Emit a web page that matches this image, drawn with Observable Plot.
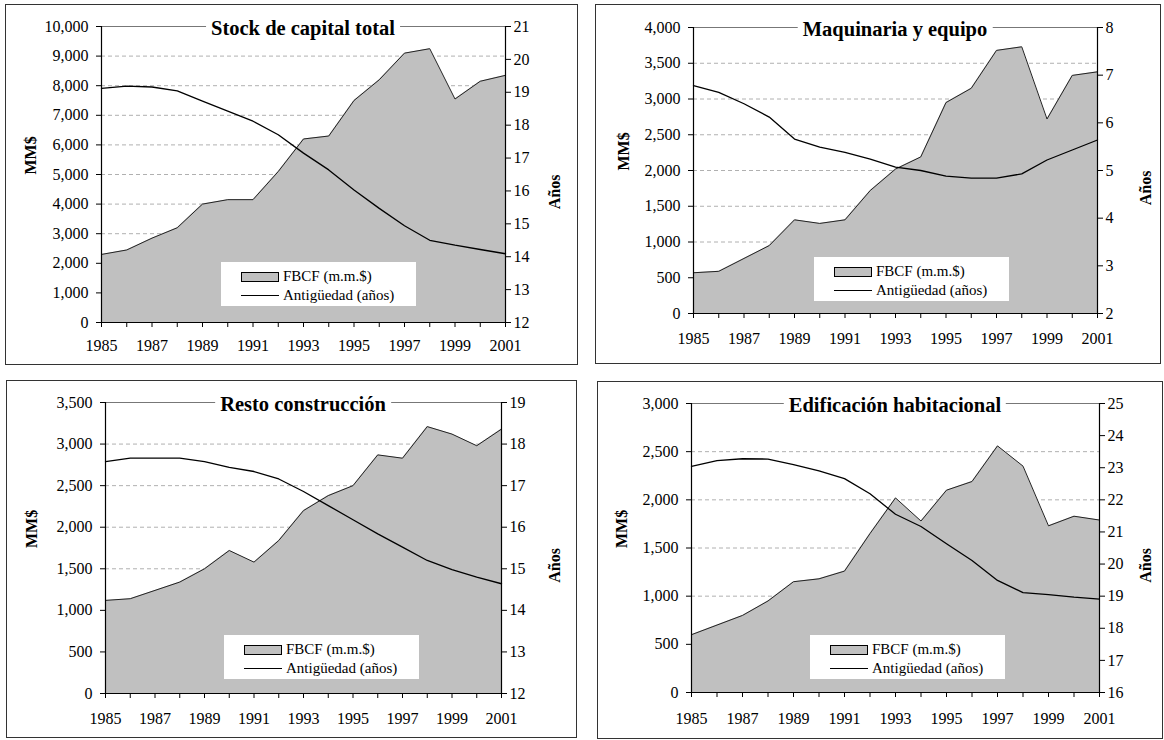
<!DOCTYPE html>
<html>
<head>
<meta charset="utf-8">
<script src="https://cdn.jsdelivr.net/npm/d3@7"></script>
<script src="https://cdn.jsdelivr.net/npm/@observablehq/plot@0.6"></script>
<style>
  html, body { margin: 0; padding: 0; background: #fff; }
  #root { position: relative; width: 1164px; height: 740px; background: #fff; overflow: hidden; font-family: "Liberation Serif", "DejaVu Serif", serif; }
  .frame { position: absolute; box-sizing: border-box; border: 1.5px solid #333; background: #fff; }
  .chart { position: absolute; }
  .title { position: absolute; transform: translate(-50%, -50%); background: #fff; padding: 0 5px; font-weight: bold; font-size: 20.5px; white-space: nowrap; color: #000; line-height: 22px; }
  .legend { position: absolute; background: #fff; font-size: 15px; color: #000; box-sizing: border-box; padding: 5px 0 0 20px; }
  .legend .row { height: 19px; display: flex; align-items: center; white-space: nowrap; }
  .legend .sw { display: inline-block; width: 38px; height: 10px; background: #c0c0c0; border: 1px solid #000; box-sizing: border-box; margin-right: 4px; }
  .legend .ln { display: inline-block; width: 38px; height: 0; border-top: 1px solid #000; margin-right: 4px; }
</style>
</head>
<body>
<div id="root"></div>
<script>
// ---- data ----
const years = [1985, 1986, 1987, 1988, 1989, 1990, 1991, 1992, 1993, 1994, 1995, 1996, 1997, 1998, 1999, 2000, 2001];

const stockFBCF = [2300, 2450, 2850, 3200, 4000, 4150, 4150, 5100, 6200, 6300, 7500, 8200, 9100, 9250, 7550, 8150, 8350];
const stockEdad = [19.12, 19.19, 19.16, 19.04, 18.73, 18.43, 18.12, 17.71, 17.15, 16.64, 16.03, 15.47, 14.94, 14.5, 14.35, 14.22, 14.09];

const maqFBCF = [570, 590, 770, 950, 1310, 1260, 1310, 1720, 2020, 2190, 2950, 3150, 3680, 3730, 2720, 3330, 3380];
const maqEdad = [6.78, 6.64, 6.40, 6.12, 5.66, 5.49, 5.38, 5.24, 5.07, 5.0, 4.88, 4.84, 4.84, 4.93, 5.22, 5.43, 5.64];

const restoFBCF = [1120, 1140, 1240, 1340, 1500, 1720, 1580, 1840, 2200, 2380, 2500, 2870, 2830, 3210, 3120, 2980, 3180];
const restoEdad = [17.58, 17.66, 17.66, 17.66, 17.58, 17.44, 17.34, 17.16, 16.86, 16.52, 16.18, 15.84, 15.52, 15.2, 14.98, 14.8, 14.64];

const edifFBCF = [600, 700, 800, 950, 1150, 1180, 1260, 1650, 2020, 1780, 2100, 2190, 2560, 2350, 1730, 1830, 1790];
const edifEdad = [23.04, 23.22, 23.28, 23.27, 23.1, 22.9, 22.66, 22.19, 21.55, 21.17, 20.63, 20.11, 19.49, 19.11, 19.05, 18.97, 18.91];

const titles = ["Stock de capital total", "Maquinaria y equipo", "Resto construcción", "Edificación habitacional"];
const legendLabels = ["FBCF (m.m.$)", "Antigüedad (años)"];
const yLeftLabel = "MM$";
const yRightLabel = "Años";

// ---- layout / scale settings ----
const panels = [
  {title: titles[0], fbcf: stockFBCF, edad: stockEdad, lmax: 10000, lstep: 1000, rmin: 12, rmax: 21,
   frame: [5, 4, 578, 365], plot: [101, 26, 505, 322], legend: [221, 262], mm: -71, an: 49, xpad: 12},
  {title: titles[1], fbcf: maqFBCF, edad: maqEdad, lmax: 4000, lstep: 500, rmin: 2, rmax: 8,
   frame: [595, 4, 1161, 364], plot: [693, 27, 1097, 313], legend: [814, 257], mm: -70, an: 48, xpad: 14},
  {title: titles[2], fbcf: restoFBCF, edad: restoEdad, lmax: 3500, lstep: 500, rmin: 12, rmax: 19,
   frame: [6, 380, 577, 738], plot: [105, 402, 501, 693], legend: [224, 635], mm: -74, an: 53, xpad: 14},
  {title: titles[3], fbcf: edifFBCF, edad: edifEdad, lmax: 3000, lstep: 500, rmin: 16, rmax: 25,
   frame: [597, 381, 1163, 739], plot: [691, 403, 1099, 692], legend: [810, 635], mm: -70, an: 46, xpad: 15}
];

const root = document.getElementById("root");
const fmt = d3.format(",");

for (const p of panels) {
  const [fx1, fy1, fx2, fy2] = p.frame;
  const [px1, py1, px2, py2] = p.plot;
  const fr = document.createElement("div");
  fr.className = "frame";
  Object.assign(fr.style, {left: fx1 + "px", top: fy1 + "px", width: (fx2 - fx1) + "px", height: (fy2 - fy1) + "px"});
  root.appendChild(fr);

  const sx = fx1 + 2, sy = fy1 + 2, sw = fx2 - fx1 - 4, sh = fy2 - fy1 - 4;
  const conv = a => (a - p.rmin) / (p.rmax - p.rmin) * p.lmax;
  const inv = v => String(Math.round(p.rmin + v / p.lmax * (p.rmax - p.rmin)));
  const data = years.map((y, i) => ({year: y, fbcf: p.fbcf[i], edad: conv(p.edad[i])}));
  const lticks = d3.range(0, p.lmax + 1, p.lstep);
  const rticks = d3.range(p.rmin, p.rmax + 1).map(conv);

  const chart = Plot.plot({
    width: sw, height: sh,
    marginLeft: px1 - sx, marginRight: sx + sw - px2,
    marginTop: py1 - sy, marginBottom: sy + sh - py2,
    style: {fontFamily: "Liberation Serif, DejaVu Serif, serif", fontSize: "16px", color: "#000", background: "transparent", overflow: "visible"},
    x: {domain: [1985, 2001]},
    y: {domain: [0, p.lmax]},
    marks: [
      Plot.ruleY(lticks.slice(1, -1), {stroke: "#b0b0b0", strokeDasharray: "4,3", strokeWidth: 1}),
      Plot.ruleY([p.lmax], {stroke: "#777", strokeWidth: 1}),
      Plot.areaY(data, {x: "year", y: "fbcf", fill: "#c0c0c0"}),
      Plot.lineY(data, {x: "year", y: "fbcf", stroke: "#222", strokeWidth: 1}),
      Plot.lineY(data, {x: "year", y: "edad", stroke: "#000", strokeWidth: 1.3}),
      Plot.ruleY([0], {stroke: "#000", strokeWidth: 1.2}),
      Plot.ruleX([1985], {stroke: "#000", strokeWidth: 1.2}),
      Plot.ruleX([2001], {stroke: "#000", strokeWidth: 1.2}),
      Plot.axisY(lticks, {anchor: "left", tickFormat: fmt, tickSize: 5, tickPadding: 8, label: null}),
      Plot.axisY(rticks, {anchor: "right", tickFormat: inv, tickSize: 5, tickPadding: 3, label: null}),
      Plot.axisX(years, {anchor: "bottom", tickFormat: d => (d % 2 ? String(d) : ""), tickSize: 5, tickPadding: p.xpad, label: null}),
      Plot.text([yLeftLabel], {frameAnchor: "left", text: d => d, rotate: -90, dx: p.mm, fontWeight: "bold", fontSize: 16, fill: "#000"}),
      Plot.text([yRightLabel], {frameAnchor: "right", text: d => d, rotate: -90, dx: p.an, fontWeight: "bold", fontSize: 16, fill: "#000"})
    ]
  });
  chart.classList.add("chart");
  Object.assign(chart.style, {left: sx + "px", top: sy + "px"});
  root.appendChild(chart);

  const t = document.createElement("div");
  t.className = "title";
  t.textContent = p.title;
  Object.assign(t.style, {left: ((px1 + px2) / 2) + "px", top: (py1 + 2) + "px"});
  root.appendChild(t);

  const lg = document.createElement("div");
  lg.className = "legend";
  Object.assign(lg.style, {left: p.legend[0] + "px", top: p.legend[1] + "px", width: "195px", height: "44px"});
  lg.innerHTML = `<div class="row"><span class="sw"></span>${legendLabels[0]}</div><div class="row"><span class="ln"></span>${legendLabels[1]}</div>`;
  root.appendChild(lg);
}
</script>
</body>
</html>
